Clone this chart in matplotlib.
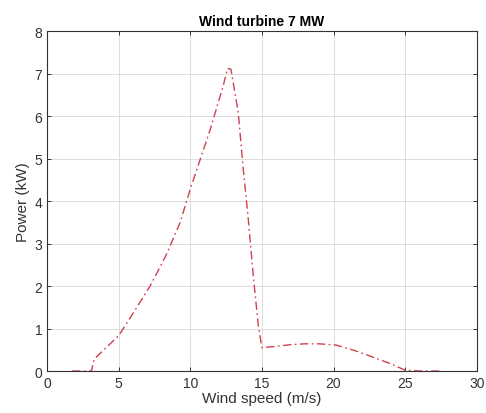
import matplotlib
matplotlib.use("Agg")
import matplotlib.pyplot as plt

plt.rcParams["font.family"] = ["Liberation Sans", "DejaVu Sans"]

wind_speed = [1.75, 3.1, 3.3, 4.0, 5.0, 5.9, 7.2, 8.35, 9.3, 10.0, 11.4, 12.3, 12.6, 12.84,
              13.35, 13.7, 14.05, 14.4, 14.75, 15.0, 16.0, 17.0, 18.0, 19.0, 20.2, 21.5,
              22.8, 24.0, 25.0, 26.0, 27.4]
power = [0.0, 0.0, 0.28, 0.51, 0.83, 1.3, 2.0, 2.75, 3.5, 4.28, 5.69, 6.71, 7.12, 7.1,
         6.08, 4.75, 3.58, 2.24, 1.07, 0.55, 0.58, 0.62, 0.64, 0.64, 0.61, 0.48,
         0.32, 0.17, 0.02, 0.0, 0.0]

fig = plt.figure(figsize=(4.86, 4.14), dpi=100)
ax = fig.add_axes([0.0967, 0.1014, 0.8843, 0.8213])

ax.plot(wind_speed, power, linestyle=(0, (6, 2.5, 1.2, 2.5)), color="#d0404f", linewidth=1.0)

ax.set_xlim(0, 30)
ax.set_ylim(0, 8)
ax.set_xticks(range(0, 31, 5))
ax.set_yticks(range(0, 9))
ax.grid(True, color="#dcdcdc", linewidth=0.7)
ax.set_axisbelow(True)
ax.tick_params(direction="in", top=True, right=True, labelsize=10,
               colors="#333333", length=3, width=0.7)
for s in ax.spines.values():
    s.set_color("#333333")
    s.set_linewidth(0.8)

ax.set_title("Wind turbine 7 MW", fontsize=10, fontweight="bold", pad=4)
ax.set_xlabel("Wind speed (m/s)", fontsize=11, color="#333333", labelpad=1)
ax.set_ylabel("Power (kW)", fontsize=11, color="#333333", labelpad=3)

fig.savefig("out.png", dpi=100)
